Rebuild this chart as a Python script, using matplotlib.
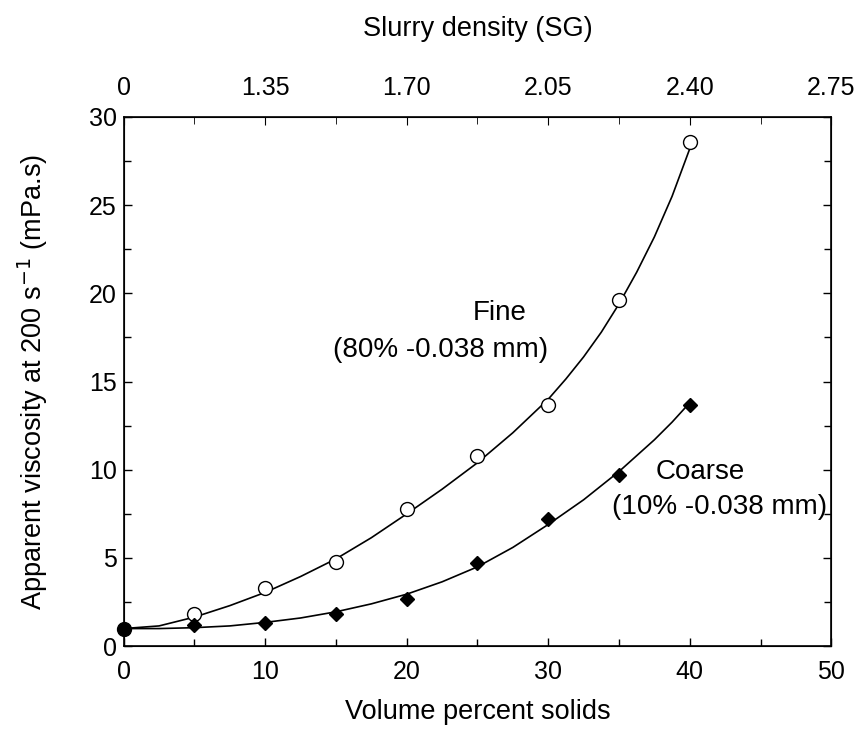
import matplotlib
matplotlib.use("Agg")
import matplotlib.pyplot as plt
from matplotlib.ticker import MultipleLocator

plt.rcParams['font.family'] = ['Liberation Sans', 'DejaVu Sans']

# measured points
solids = [0, 5, 10, 15, 20, 25, 30, 35, 40]
fine_pts = [1.0, 1.83, 3.3, 4.8, 7.8, 10.8, 13.7, 19.6, 28.6]
coarse_pts = [1.0, 1.2, 1.3, 1.8, 2.7, 4.7, 7.2, 9.7, 13.7]

# fitted curves
curve_x = [0, 2.5, 5, 7.5, 10, 12.5, 15, 17.5, 20, 22.5, 25, 27.5, 30,
           31.25, 32.5, 33.75, 35, 36.25, 37.5, 38.75, 40]
fine_curve = [1.0, 1.15, 1.65, 2.3, 3.05, 3.95, 4.95, 6.15, 7.5, 8.9, 10.4, 12.1, 14.0,
              15.15, 16.4, 17.8, 19.4, 21.2, 23.2, 25.5, 28.2]
coarse_curve = [1.0, 1.0, 1.05, 1.15, 1.35, 1.6, 1.95, 2.4, 2.95, 3.65, 4.5, 5.6, 6.9,
                7.6, 8.3, 9.1, 9.9, 10.8, 11.7, 12.7, 13.8]

x_ticks = [0, 10, 20, 30, 40, 50]
sg_labels = ["0", "1.35", "1.70", "2.05", "2.40", "2.75"]

fig = plt.figure(figsize=(8.65, 7.31), dpi=100)
ax = fig.add_axes([0.143, 0.116, 0.818, 0.724])

ax.plot(curve_x, fine_curve, color='black', lw=1.2)
ax.plot(curve_x, coarse_curve, color='black', lw=1.2)
ax.plot(solids[1:], fine_pts[1:], 'o', ms=10, mfc='white', mec='black', mew=1.0, ls='none')
ax.plot(solids[1:], coarse_pts[1:], 'D', ms=7, mfc='black', mec='black', ls='none')
ax.plot(solids[:1], coarse_pts[:1], 'o', ms=10, mfc='black', mec='black', ls='none', clip_on=False, zorder=5)

ax.set_xlim(0, 50)
ax.set_ylim(0, 30)
ax.set_xticks(x_ticks)
ax.xaxis.set_minor_locator(MultipleLocator(5))
ax.yaxis.set_major_locator(MultipleLocator(5))
ax.yaxis.set_minor_locator(MultipleLocator(2.5))
ax.tick_params(which='both', direction='in', right=True, labelsize=18, width=1.0)
ax.tick_params(which='major', length=6)
ax.tick_params(which='minor', length=5)
ax.tick_params(axis='x', pad=10)
ax.tick_params(axis='y', pad=5)
for s in ax.spines.values():
    s.set_linewidth(1.2)

ax.set_xlabel("Volume percent solids", fontsize=19.5, labelpad=11)
ax.set_ylabel("Apparent viscosity at 200 s$^{-1}$ (mPa.s)", fontsize=19.5, labelpad=28)

top = ax.twiny()
top.set_xlim(ax.get_xlim())
top.set_xticks(x_ticks)
top.set_xticklabels(sg_labels)
top.xaxis.set_minor_locator(MultipleLocator(5))
top.tick_params(which='both', direction='in', labelsize=18, pad=12)
top.tick_params(which='major', length=6)
top.tick_params(which='minor', length=5)
top.set_xlabel("Slurry density (SG)", fontsize=19.5, labelpad=29)

ax.text(24.7, 18.9, "Fine", fontsize=20, ha='left', va='center')
ax.text(14.8, 16.8, "(80% -0.038 mm)", fontsize=20, ha='left', va='center')
ax.text(37.6, 9.9, "Coarse", fontsize=20, ha='left', va='center')
ax.text(34.5, 7.9, "(10% -0.038 mm)", fontsize=20, ha='left', va='center')

fig.savefig("out.png", dpi=100)
